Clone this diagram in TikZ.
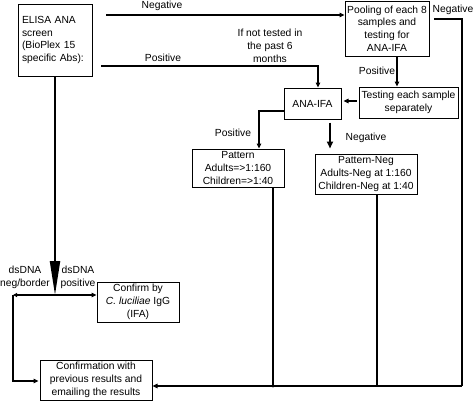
\documentclass[tikz,border=0pt]{standalone}
\usepackage{fontspec}
\setmainfont{Liberation Sans}
\usetikzlibrary{arrows.meta,calc}
\begin{document}
\begin{tikzpicture}[x=1pt,y=-1pt,
  every node/.style={font=\fontsize{10.3}{12.7}\selectfont,inner sep=0pt},
  box/.style={draw,line width=1pt,align=center},
  lbl/.style={align=center},
  conn/.style={line width=1.1pt},
  arr/.style={conn,-{Triangle[length=5pt,width=4.5pt]}},
  thickarr/.style={line width=2pt,-{Triangle[length=7pt,width=6pt]}}]
\useasboundingbox (0,0) rectangle (474,400);
\fill[white] (0,0) rectangle (474,400);
% nodes
\node[box,align=left,minimum width=74pt,minimum height=72pt,text width=66pt] (elisa) at (55,40) {ELISA ANA\\screen\\(BioPlex 15\\specific Abs):};
\node[box,minimum width=84pt,minimum height=55pt] (pool) at (387,28.5) {Pooling of each 8\\samples and\\testing for\\ANA-IFA};
\node[box,minimum width=99pt,minimum height=31pt] (test) at (408.5,102.5) {Testing each sample\\separately};
\node[box,minimum width=57pt,minimum height=31pt] (ana) at (312.5,103.5) {ANA-IFA};
\node[box,minimum width=92pt,minimum height=38pt] (pat) at (238,168) {Pattern\\Adults=\textgreater1:160\\Children=\textgreater1:40};
\node[box,minimum width=102pt,minimum height=40pt] (patneg) at (366,174) {Pattern-Neg\\Adults-Neg at 1:160\\Children-Neg at 1:40};
\node[box,minimum width=82pt,minimum height=40pt] (confirm) at (138,302) {Confirm by\\\textit{C. luciliae} IgG\\(IFA)};
\node[box,minimum width=112pt,minimum height=40pt] (final) at (96,380) {Confirmation with\\previous results and\\emailing the results};
% labels
\node[lbl] (lneg1) at (162,6) {Negative};
\node[lbl] (lpos1) at (163,58) {Positive};
\node[lbl] (lif) at (270,46) {If not tested in\\the past 6\\months};
\node[lbl] (lneg2) at (453,10) {Negative};
\node[lbl] (lpos2) at (377,71) {Positive};
\node[lbl] (lpos3) at (233,133) {Positive};
\node[lbl] (lneg3) at (366,138) {Negative};
\node[lbl] (ldsn) at (25,277.5) {dsDNA\\neg/border};
\node[lbl] (ldsp) at (78,277.5) {dsDNA\\positive};
% coordinates
\coordinate (n1) at (106,15);
\coordinate (p1) at (101,66);
\coordinate (r1) at (434,19);
\coordinate (r2) at (462,386);
\coordinate (ds) at (55,295);
\coordinate (dl) at (13,295);
% connectors
\draw[arr] (n1) -- (n1 -| pool.west);
\draw[arr] (p1) -| ([xshift=5.5pt]ana.north);
\draw[arr] ([xshift=10pt]pool.south) -- ([xshift=10pt]pool.south |- test.north);
\draw[arr] ([xshift=-2pt]test.west |- 0,101) -- ([xshift=2pt]ana.east |- 0,101);
\draw[arr] (ana.west |- 0,111) -| ([xshift=21pt]pat.north);
\draw[thickarr] ([xshift=17.5pt,yshift=-3pt]ana.south) -- ([xshift=17.5pt,yshift=5pt]ana.south |- patneg.north);
\draw[conn] (r1) -| (r2);
\draw[arr] (r2) -- (r2 -| final.east);
\draw[conn] ([xshift=35pt]pat.south) -- ([xshift=35pt]pat.south |- r2);
\fill ([xshift=35pt]pat.south |- r2) circle (1.5pt);
\draw[conn] ([xshift=11pt]patneg.south) -- ([xshift=11pt]patneg.south |- r2);
\draw[line width=2pt,-{Triangle[length=34pt,width=10pt]}] (elisa.south) -- (ds);
\draw[arr] (ds) -- (ds -| confirm.west);
\draw[conn,{Triangle[length=4pt,width=4pt]}-] (dl) -- (ds);
\draw[arr] (dl) |- ([xshift=-1pt]final.west |- 0,381);
\end{tikzpicture}
\end{document}
